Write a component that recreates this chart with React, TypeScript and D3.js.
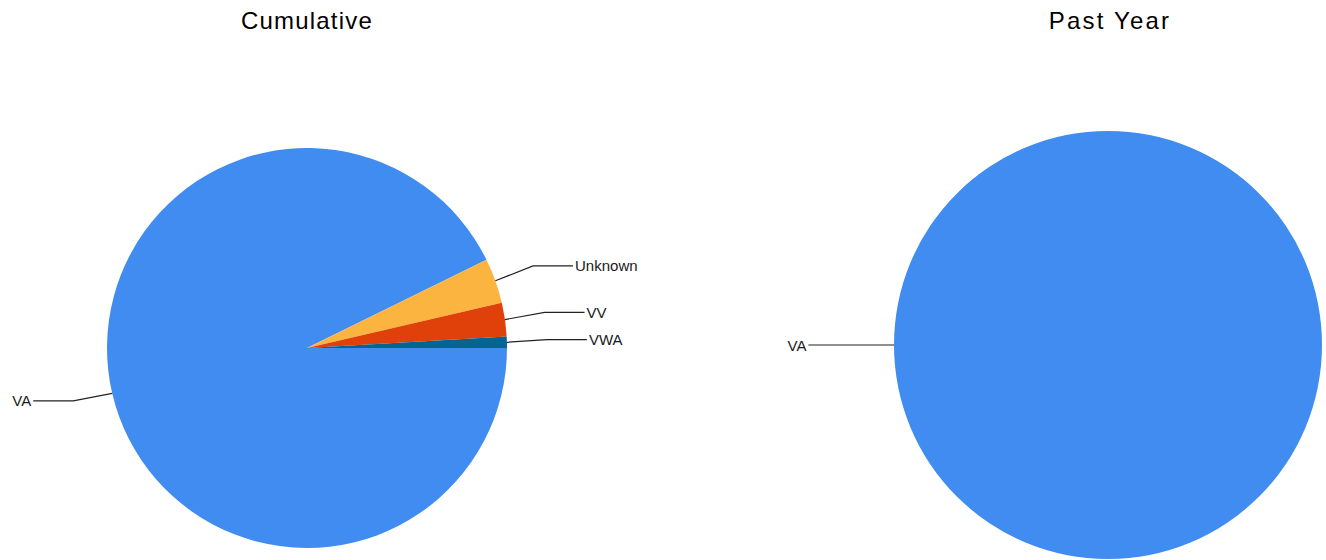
import React from "react";
import * as d3 from "d3";

// Cumulative breakdown by category
const cumulativeCategories = ["VA", "Unknown", "VV", "VWA"];
const cumulativeValues = [102, 4, 3, 1];

// Past year breakdown: only one category present
const pastYearCategories = ["VA"];
const pastYearValues = [8];

const palette = ["#418CF0", "#FCB441", "#E0400A", "#056492"];

const chartTitles = ["Cumulative", "Past Year"];

const WIDTH = 1326;
const HEIGHT = 560;

type PieSpec = {
  title: string;
  categories: string[];
  values: number[];
  cx: number;
  cy: number;
  r: number;
  titleSpacing: number;
};

const pies: PieSpec[] = [
  { title: chartTitles[0], categories: cumulativeCategories, values: cumulativeValues, cx: 307, cy: 348, r: 200, titleSpacing: 1.2 },
  { title: chartTitles[1], categories: pastYearCategories, values: pastYearValues, cx: 1108, cy: 345, r: 214, titleSpacing: 2.2 },
];

const FONT = "'Liberation Sans', Arial, 'DejaVu Sans', sans-serif";

type Slice = { label: string; value: number; color: string };

function PieChart({ spec }: { spec: PieSpec }) {
  const data: Slice[] = spec.categories.map((c, i) => ({
    label: c,
    value: spec.values[i],
    color: palette[i % palette.length],
  }));
  const pie = d3
    .pie<Slice>()
    .value((d) => d.value)
    .sort(null)
    .startAngle(Math.PI / 2)
    .endAngle(Math.PI / 2 + 2 * Math.PI);
  const arcs = pie(data);
  const arcGen = d3.arc<d3.PieArcDatum<Slice>>().innerRadius(0).outerRadius(spec.r);

  const elbowR = spec.r * 1.2;
  const tail = spec.r * 0.2;

  return (
    <g>
      <text
        x={spec.cx + (spec.titleSpacing - 1.2) * 2}
        y={29}
        textAnchor="middle"
        fontFamily={FONT}
        fontSize={24}
        letterSpacing={spec.titleSpacing}
        fill="#000"
      >
        {spec.title}
      </text>
      <g transform={`translate(${spec.cx},${spec.cy})`}>
        {arcs.map((a, i) => (
          <path key={i} d={arcGen(a) || ""} fill={a.data.color} />
        ))}
      </g>
      {arcs.map((a, i) => {
        const mid = (a.startAngle + a.endAngle) / 2;
        const s = Math.sin(mid);
        const c = Math.cos(mid);
        const x0 = spec.cx + spec.r * s;
        const y0 = spec.cy - spec.r * c;
        const x1 = spec.cx + elbowR * s;
        const y1 = spec.cy - elbowR * c - (Math.abs(c) > 0.01 ? 1.5 : 0);
        const right = s >= 0;
        const x2 = x1 + (right ? tail : -tail);
        return (
          <g key={`l${i}`}>
            <polyline
              points={`${x0},${y0} ${x1},${y1} ${x2},${y1}`}
              fill="none"
              stroke="#222"
              strokeWidth={1.2}
            />
            <text
              x={x2 + (right ? 2 : -2)}
              y={y1 + 5.5}
              textAnchor={right ? "start" : "end"}
              fontFamily={FONT}
              fontSize={15}
              fill="#1a1a1a"
            >
              {a.data.label}
            </text>
          </g>
        );
      })}
    </g>
  );
}

export default function App() {
  return (
    <svg
      width={WIDTH}
      height={HEIGHT}
      style={{ position: "absolute", left: 0, top: 0, background: "#fff" }}
    >
      {pies.map((p, i) => (
        <PieChart key={i} spec={p} />
      ))}
    </svg>
  );
}
